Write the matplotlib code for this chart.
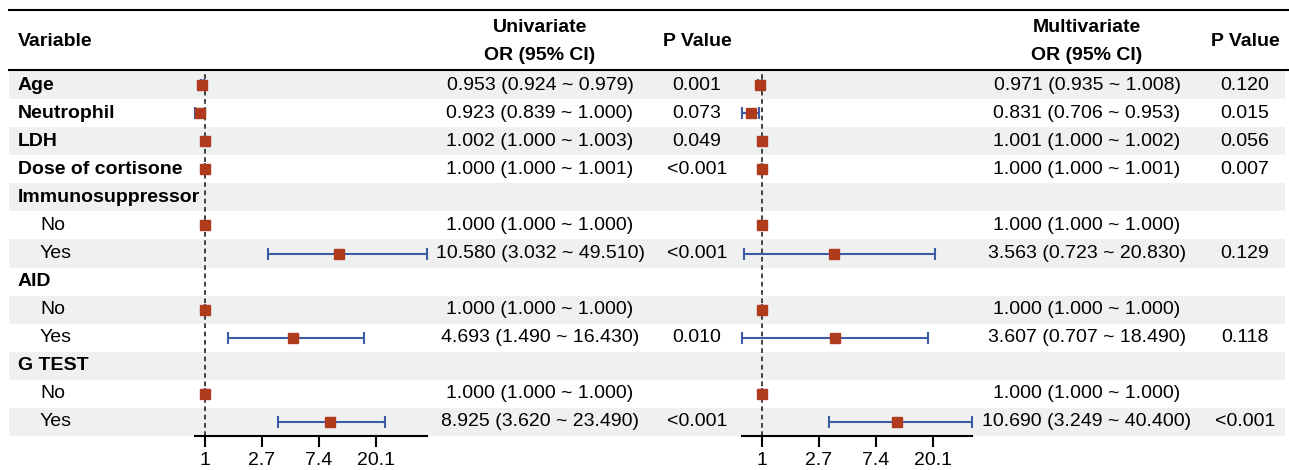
import numpy as np
import matplotlib
matplotlib.use("Agg")
import matplotlib.pyplot as plt
from matplotlib.patches import Rectangle

plt.rcParams['font.family'] = ['Liberation Sans', 'DejaVu Sans']

# ---------------- data ----------------
variables = ["Age", "Neutrophil", "LDH", "Dose of cortisone", "Immunosuppressor",
             "No", "Yes", "AID", "No", "Yes", "G TEST", "No", "Yes"]
is_group = [True, True, True, True, True, False, False, True, False, False, True, False, False]

nan = np.nan
uni_or = [0.953, 0.923, 1.002, 1.000, nan, 1.000, 10.580, nan, 1.000, 4.693, nan, 1.000, 8.925]
uni_lo = [0.924, 0.839, 1.000, 1.000, nan, 1.000, 3.032, nan, 1.000, 1.490, nan, 1.000, 3.620]
uni_hi = [0.979, 1.000, 1.003, 1.001, nan, 1.000, 49.510, nan, 1.000, 16.430, nan, 1.000, 23.490]
uni_p = ["0.001", "0.073", "0.049", "<0.001", "", "", "<0.001", "", "", "0.010", "", "", "<0.001"]

multi_or = [0.971, 0.831, 1.001, 1.000, nan, 1.000, 3.563, nan, 1.000, 3.607, nan, 1.000, 10.690]
multi_lo = [0.935, 0.706, 1.000, 1.000, nan, 1.000, 0.723, nan, 1.000, 0.707, nan, 1.000, 3.249]
multi_hi = [1.008, 0.953, 1.002, 1.001, nan, 1.000, 20.830, nan, 1.000, 18.490, nan, 1.000, 40.400]
multi_p = ["0.120", "0.015", "0.056", "0.007", "", "", "0.129", "", "", "0.118", "", "", "<0.001"]

tick_vals = [1, 2.7, 7.4, 20.1]
tick_labels = ["1", "2.7", "7.4", "20.1"]

# ---------------- layout ----------------
W, H = 1289, 470
TOP = 71.0          # top of first row (px)
RH = 28.08          # row height (px)
n = len(variables)
SHADE = "#EEF1F0"
MARK = "#B03A1C"
CI = "#3B5BA5"
FS = 14

fig = plt.figure(figsize=(W / 100, H / 100), dpi=100)
bg = fig.add_axes([0, 0, 1, 1])
bg.set_xlim(0, W)
bg.set_ylim(H, 0)
bg.axis("off")

# row shading
for i in range(n):
    if i % 2 == 0:
        bg.add_patch(Rectangle((9, TOP + i * RH), 1276, RH, color=SHADE, lw=0, zorder=0))

# header lines
bg.plot([8, W], [10, 10], color="black", lw=1.5, solid_capstyle="butt")
bg.plot([8, W], [70, 70], color="black", lw=1.5, solid_capstyle="butt")

# header text
bg.text(18, 42, "Variable", fontsize=FS, fontweight="bold", va="center", ha="left")
bg.text(540, 27, "Univariate", fontsize=FS, fontweight="bold", va="center", ha="center")
bg.text(540, 55, "OR (95% CI)", fontsize=FS, fontweight="bold", va="center", ha="center")
bg.text(697, 42, "P Value", fontsize=FS, fontweight="bold", va="center", ha="center")
bg.text(1087, 27, "Multivariate", fontsize=FS, fontweight="bold", va="center", ha="center")
bg.text(1087, 55, "OR (95% CI)", fontsize=FS, fontweight="bold", va="center", ha="center")
bg.text(1245, 42, "P Value", fontsize=FS, fontweight="bold", va="center", ha="center")


def fmt(o, l, h):
    if np.isnan(o):
        return ""
    return f"{o:.3f} ({l:.3f} ~ {h:.3f})"


for i in range(n):
    yc = TOP + (i + 0.5) * RH
    if is_group[i]:
        bg.text(18, yc, variables[i], fontsize=FS, fontweight="bold", va="center", ha="left")
    else:
        bg.text(40, yc, variables[i], fontsize=FS, va="center", ha="left")
    bg.text(540, yc, fmt(uni_or[i], uni_lo[i], uni_hi[i]), fontsize=FS, va="center", ha="center")
    bg.text(697, yc, uni_p[i], fontsize=FS, va="center", ha="center")
    bg.text(1087, yc, fmt(multi_or[i], multi_lo[i], multi_hi[i]), fontsize=FS, va="center", ha="center")
    bg.text(1245, yc, multi_p[i], fontsize=FS, va="center", ha="center")

PPU = 56.9  # pixels per natural-log unit


def forest(x1_px, o, lo, hi):
    o, lo, hi = np.array(o), np.array(lo), np.array(hi)
    xmin, xmax = np.nanmin(lo), np.nanmax(hi)
    left = x1_px + PPU * np.log(xmin)
    width = PPU * (np.log(xmax) - np.log(xmin))
    bottom_px = TOP + n * RH
    ax = fig.add_axes([left / W, (H - bottom_px) / H, width / W, (n * RH) / H])
    ax.patch.set_alpha(0)
    ax.set_xscale("log")
    ax.set_xlim(xmin, xmax)
    ax.set_ylim(n - 0.5, -0.5)
    for s in ("top", "left", "right"):
        ax.spines[s].set_visible(False)
    ax.spines["bottom"].set_linewidth(1.5)
    ax.set_yticks([])
    ax.set_xticks(tick_vals)
    ax.set_xticklabels(tick_labels)
    ax.minorticks_off()
    ax.tick_params(axis="x", length=8, width=1.5, labelsize=14, pad=3.5)
    ax.axvline(1, color="#333333", lw=1.3, ls=(0, (2.6, 2.0)), zorder=1, clip_on=False)
    rows = np.arange(n)
    m = ~np.isnan(o)
    ax.errorbar(o[m], rows[m], xerr=[o[m] - lo[m], hi[m] - o[m]], fmt="none",
                ecolor=CI, elinewidth=1.5, capsize=4.6, capthick=1.5, zorder=2, clip_on=False)
    ax.plot(o[m], rows[m], ls="none", marker="s", ms=7, color=MARK, zorder=3, clip_on=False)
    return ax


forest(205, uni_or, uni_lo, uni_hi)
forest(762, multi_or, multi_lo, multi_hi)

fig.savefig("out.png", dpi=100)
